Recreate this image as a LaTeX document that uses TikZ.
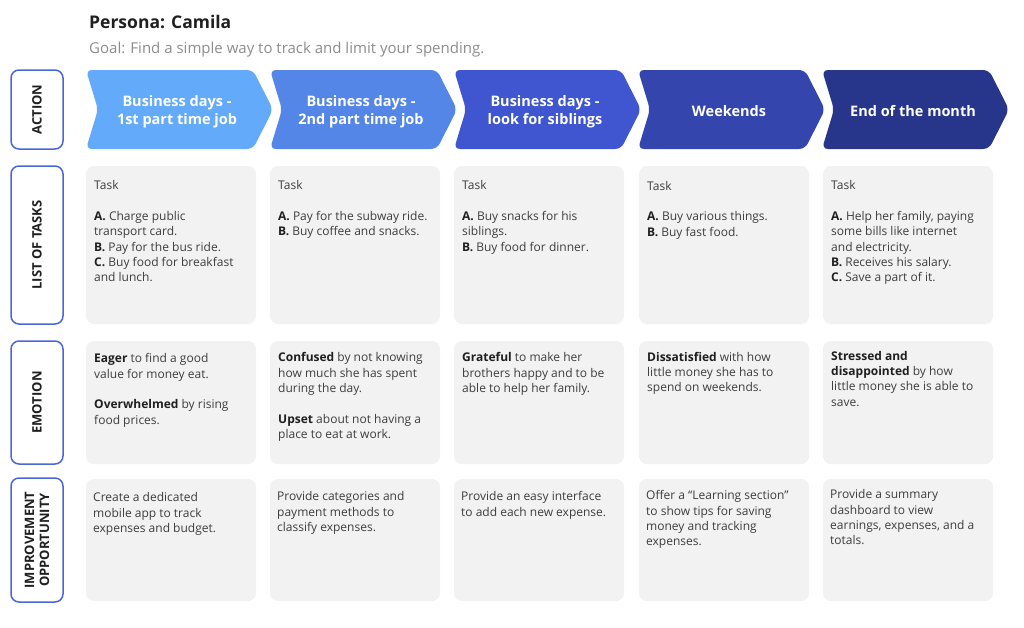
\documentclass[tikz,border=0pt]{standalone}
\usepackage{fontspec}
\setmainfont{Open Sans}
\definecolor{stepA}{HTML}{64AAFB}
\definecolor{stepB}{HTML}{5486E8}
\definecolor{stepC}{HTML}{3F56D0}
\definecolor{stepD}{HTML}{3446AE}
\definecolor{stepE}{HTML}{27368A}
\definecolor{rowline}{HTML}{4A66DB}
\definecolor{cardgray}{HTML}{F2F2F2}
\definecolor{bodytext}{HTML}{3D3D3D}
\definecolor{leadtext}{HTML}{1F1F1F}
\definecolor{goalgray}{HTML}{8C8C8C}
\newcommand{\boldlead}[1]{\textbf{\color{leadtext}#1}}
\tikzset{
	rowlabel/.style={draw=rowline, line width=1.5pt, fill=white, rounded corners=8pt, rotate=90, minimum height=52pt, align=center, text=leadtext, font=\fontsize{13}{15}\selectfont\bfseries},
	steptext/.style={text=white, align=center, font=\fontsize{14.5}{17.5}\selectfont\bfseries},
	cardtext/.style={anchor=north west, inner sep=0pt, align=left, text=bodytext}
}
\begin{document}
\begin{tikzpicture}[x=1pt, y=-1pt, font=\fontsize{12}{15.3}\selectfont, line join=round, line cap=round]
	\useasboundingbox (0,0) rectangle (1024,627);
	\node[anchor=base west, inner sep=0pt, text=leadtext, font=\fontsize{17.5}{20}\selectfont\bfseries] (persona) at (89,28.5) {Persona: Camila};
	\node[anchor=base west, inner sep=0pt, text=goalgray, font=\fontsize{15}{18}\selectfont] (goal) at (89,53) {Goal: Find a simple way to track and limit your spending.};
	\node[rowlabel, minimum width=79pt] (action) at (37,109.5) {ACTION};
	\node[rowlabel, minimum width=158pt] (tasks) at (37,245) {LIST OF TASKS};
	\node[rowlabel, minimum width=123pt] (emotion) at (37,402.5) {EMOTION};
	\node[rowlabel, minimum width=124pt] (improve) at (37,540) {IMPROVEMENT\\OPPORTUNITY};
	\foreach \i/\col in {0/stepA, 1/stepB, 2/stepC, 3/stepD, 4/stepE} {
		\fill[\col, rounded corners=6pt] (86+184*\i,70) -- ++(167,0) -- ++(20,39.5) -- ++(-20,39.5) -- ++(-167,0) -- ++(12,-39.5) -- cycle;
	}
	\node[steptext] (act1) at (177,111.5) {Business days -\\1st part time job};
	\node[steptext] (act2) at (361,111.5) {Business days -\\2nd part time job};
	\node[steptext] (act3) at (545,111.5) {Business days -\\look for siblings};
	\node[steptext] (act4) at (729,111) {Weekends};
	\node[steptext] (act5) at (913,111) {End of the month};
	\foreach \x in {86, 270, 454, 639, 823} {
		\fill[cardgray, rounded corners=8pt] (\x,166) rectangle ++(170,158);
		\fill[cardgray, rounded corners=8pt] (\x,341) rectangle ++(170,123);
		\fill[cardgray, rounded corners=8pt] (\x,479) rectangle ++(170,122);
	}
	\node[cardtext] (task1) at (94,180.5) {Task\\[15.3pt]\boldlead{A.} Charge public\\transport card.\\\boldlead{B.} Pay for the bus ride.\\\boldlead{C.} Buy food for breakfast\\and lunch.};
	\node[cardtext] (task2) at (278,180.5) {Task\\[15.3pt]\boldlead{A.} Pay for the subway ride.\\\boldlead{B.} Buy coffee and snacks.};
	\node[cardtext] (task3) at (462,180.5) {Task\\[15.3pt]\boldlead{A.} Buy snacks for his\\siblings.\\\boldlead{B.} Buy food for dinner.};
	\node[cardtext] (task4) at (647,181) {Task\\[15.3pt]\boldlead{A.} Buy various things.\\\boldlead{B.} Buy fast food.};
	\node[cardtext] (task5) at (831,180.5) {Task\\[15.3pt]\boldlead{A.} Help her family, paying\\some bills like internet\\and electricity.\\\boldlead{B.} Receives his salary.\\\boldlead{C.} Save a part of it.};
	\node[cardtext] (feel1) at (94,353.5) {\boldlead{Eager} to find a good\\value for money eat.\\[15.3pt]\boldlead{Overwhelmed} by rising\\food prices.};
	\node[cardtext] (feel2) at (278,352.5) {\boldlead{Confused} by not knowing\\how much she has spent\\during the day.\\[15.3pt]\boldlead{Upset} about not having a\\place to eat at work.};
	\node[cardtext] (feel3) at (462,352.5) {\boldlead{Grateful} to make her\\brothers happy and to be\\able to help her family.};
	\node[cardtext] (feel4) at (647,352) {\boldlead{Dissatisfied} with how\\little money she has to\\spend on weekends.};
	\node[cardtext] (feel5) at (831,351) {\boldlead{Stressed and}\\\boldlead{disappointed} by how\\little money she is able to\\save.};
	\node[cardtext] (idea1) at (93,492.5) {Create a dedicated\\mobile app to track\\expenses and budget.};
	\node[cardtext] (idea2) at (277,491.5) {Provide categories and\\payment methods to\\classify expenses.};
	\node[cardtext] (idea3) at (461,491.5) {Provide an easy interface\\to add each new expense.};
	\node[cardtext] (idea4) at (646,490.5) {Offer a “Learning section”\\to show tips for saving\\money and tracking\\expenses.};
	\node[cardtext] (idea5) at (830,489.5) {Provide a summary\\dashboard to view\\earnings, expenses, and a\\totals.};
\end{tikzpicture}
\end{document}
